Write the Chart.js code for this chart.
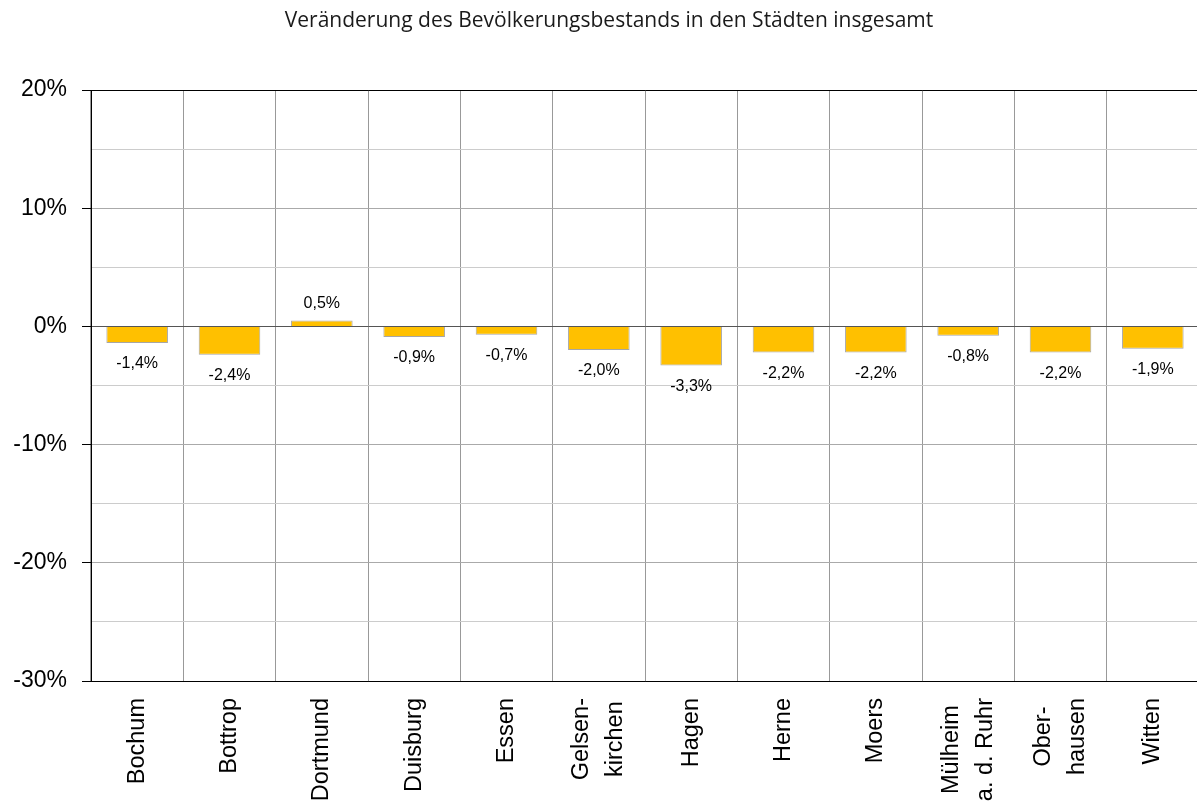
<!DOCTYPE html>
<html>
<head>
<meta charset="utf-8">
<script src="https://cdn.jsdelivr.net/npm/chart.js@4/dist/chart.umd.min.js"></script>
<style>
  body { margin: 0; overflow: hidden; background: #fff; }
  #wrap { width: 1199px; height: 804px; }
</style>
</head>
<body>
<div id="wrap"><canvas id="chart" width="1199" height="804"></canvas></div>
<script>
// --- Data ---
const cities = [
  ['Bochum'], ['Bottrop'], ['Dortmund'], ['Duisburg'], ['Essen'],
  ['Gelsen-', 'kirchen'], ['Hagen'], ['Herne'], ['Moers'],
  ['Mülheim', 'a. d. Ruhr'], ['Ober-', 'hausen'], ['Witten']
];
const changePct = [-1.4, -2.4, 0.5, -0.9, -0.7, -2.0, -3.3, -2.2, -2.2, -0.8, -2.2, -1.9];
const yMin = -30;
const yMax = 20;
const yStep = 5;
const chartTitle = 'Veränderung des Bevölkerungsbestands in den Städten insgesamt';

const baseFont = '"Liberation Sans", Arial, sans-serif';

// title, centred a bit right of the page middle like the original
const titlePlugin = {
  id: 'titleText',
  afterDraw(chart) {
    const ctx = chart.ctx;
    ctx.save();
    ctx.font = '21px "Open Sans", sans-serif';
    ctx.fillStyle = '#1a1a1a';
    ctx.textAlign = 'center';
    ctx.textBaseline = 'alphabetic';
    ctx.fillText(chartTitle, 609, 27);
    ctx.restore();
  }
};

// value labels under negative bars, above positive ones
const valueLabels = {
  id: 'valueLabels',
  afterDatasetsDraw(chart) {
    const ctx = chart.ctx;
    const meta = chart.getDatasetMeta(0);
    ctx.save();
    ctx.font = '16px ' + baseFont;
    ctx.fillStyle = '#000';
    ctx.textAlign = 'center';
    ctx.textBaseline = 'middle';
    meta.data.forEach((bar, i) => {
      const v = changePct[i];
      const y = v < 0 ? bar.y + 21 : bar.y - 17;
      ctx.fillText(v.toFixed(1).replace('.', ',') + '%', bar.x, y);
    });
    ctx.restore();
  }
};

// rotated city names, lines centred to each other, block top-aligned
const cityLabels = {
  id: 'cityLabels',
  afterDraw(chart) {
    const ctx = chart.ctx;
    const xs = chart.scales.x;
    const top = xs.top + 17;
    const lh = 34;
    ctx.save();
    ctx.font = '23.5px ' + baseFont;
    ctx.fillStyle = '#000';
    ctx.textAlign = 'center';
    ctx.textBaseline = 'middle';
    cities.forEach((lines, i) => {
      const x = xs.getPixelForValue(i);
      const w = Math.max(...lines.map(l => ctx.measureText(l).width));
      ctx.save();
      ctx.translate(x, top);
      ctx.rotate(-Math.PI / 2);
      lines.forEach((ln, k) => {
        ctx.fillText(ln, -w / 2, (k - (lines.length - 1) / 2) * lh);
      });
      ctx.restore();
    });
    ctx.restore();
  }
};

new Chart(document.getElementById('chart'), {
  type: 'bar',
  data: {
    labels: cities,
    datasets: [{
      data: changePct,
      backgroundColor: '#FFC000',
      borderColor: '#A6A6A6',
      borderWidth: 1,
      barPercentage: 0.667,
      categoryPercentage: 1
    }]
  },
  options: {
    responsive: false,
    animation: false,
    layout: { padding: { left: 6, right: 0, top: 90, bottom: 0 } },
    plugins: {
      legend: { display: false },
      tooltip: { enabled: false },
      title: { display: false }
    },
    scales: {
      x: {
        grid: { color: '#999999', lineWidth: 1, drawTicks: false, offset: true },
        border: { color: '#000', width: 1 },
        ticks: { display: false },
        afterFit(scale) { scale.height = 123; }
      },
      y: {
        min: yMin,
        max: yMax,
        border: { color: '#000', width: 1 },
        grid: {
          tickLength: 9,
          color(ctx) {
            const v = ctx.tick.value;
            if (v === yMax || v === yMin) return '#000';
            if (v === 0) return '#555555';
            return v % 10 === 0 ? '#AAAAAA' : '#CCCCCC';
          },
          tickColor(ctx) {
            return ctx.tick.value % 10 === 0 ? '#000' : 'rgba(0,0,0,0)';
          }
        },
        ticks: {
          stepSize: yStep,
          padding: 15,
          color: '#000',
          font: { family: baseFont, size: 23 },
          callback: v => (v % 10 === 0 ? v + '%' : '')
        },
        afterFit(scale) { scale.width = 85; }
      }
    }
  },
  plugins: [valueLabels, cityLabels, titlePlugin]
});
</script>
</body>
</html>
